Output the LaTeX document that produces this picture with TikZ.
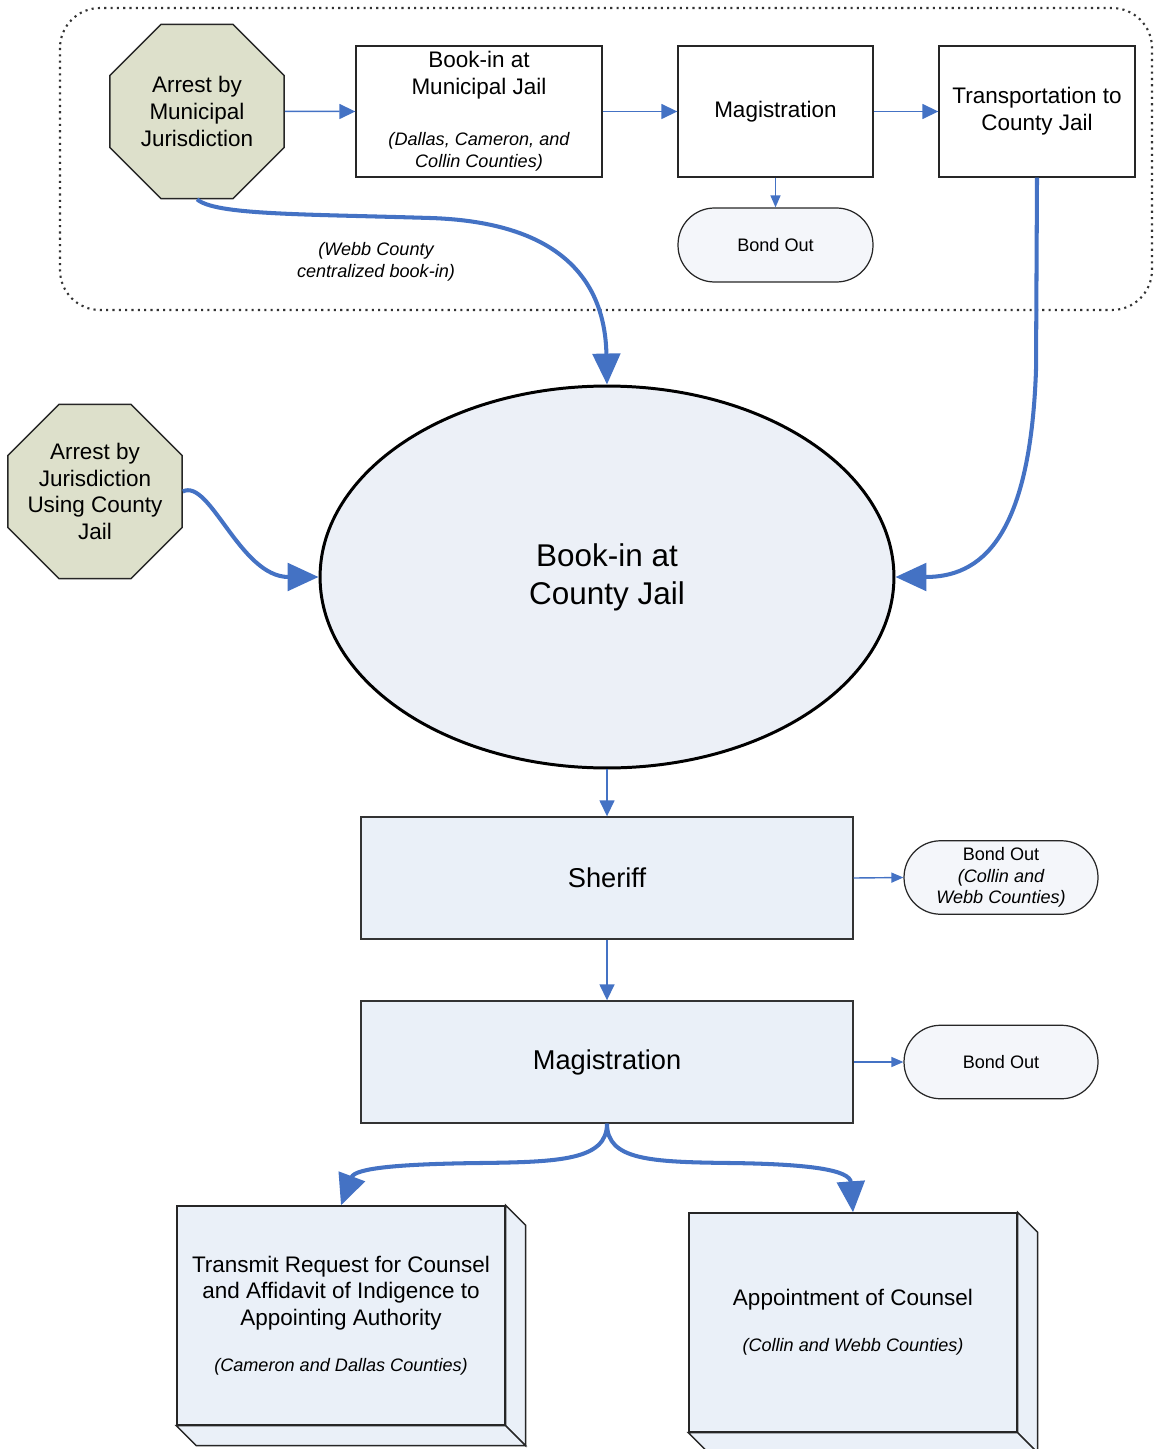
\documentclass[tikz,border=0pt]{standalone}
\usepackage{fontspec}
\setmainfont{Liberation Sans}
\usepackage{tikz}
\usetikzlibrary{arrows.meta,shapes.geometric,calc}

\definecolor{flowblue}{RGB}{68,114,196}
\definecolor{octfill}{RGB}{221,224,203}
\definecolor{boxfill}{RGB}{234,240,248}
\definecolor{pillfill}{RGB}{244,246,250}
\definecolor{ellfill}{RGB}{236,240,247}
\newcommand{\cnote}{\fontsize{10.3}{12.4}\selectfont\itshape}

\tikzset{
  octa/.style={regular polygon, regular polygon sides=8, minimum size=3.77cm, inner sep=-8pt,
    draw=black!85, line width=0.8pt, fill=octfill, align=center, font=\fontsize{12.8}{15.3}\selectfont},
  plainbox/.style={rectangle, draw=black!85, line width=0.8pt, fill=white, minimum height=2.62cm,
    inner sep=0pt, align=center, font=\fontsize{12.8}{15.3}\selectfont},
  bigbox/.style={rectangle, draw=black!80, line width=0.8pt, fill=boxfill, minimum width=9.84cm,
    minimum height=2.44cm, font=\fontsize{15.5}{18}\selectfont},
  pill/.style={rectangle, rounded corners=0.73cm, draw=black!85, line width=0.7pt, fill=pillfill,
    minimum width=3.88cm, minimum height=1.47cm, inner sep=0pt, align=center,
    font=\fontsize{10.3}{12.2}\selectfont},
  cube/.style={rectangle, draw=black!85, line width=0.8pt, fill=boxfill, minimum width=6.56cm,
    minimum height=4.38cm, align=center, font=\fontsize{12.8}{15.3}\selectfont},
  tag/.style={align=center, font=\cnote},
  thinflow/.style={flowblue, line width=0.85pt, -{Triangle[length=0.32cm,width=0.3cm]}},
  smallflow/.style={flowblue, line width=0.8pt, -{Triangle[length=0.24cm,width=0.2cm]}},
  thickflow/.style={flowblue, line width=2.3pt, -{Triangle[length=0.62cm,width=0.55cm]}}
}

\begin{document}
\begin{tikzpicture}[x=0.02cm,y=-0.02cm]
			\useasboundingbox (0,0) rectangle (1154,1449);
			
			% municipal area
			\draw[black!80, line width=1.2pt, dash pattern=on 1.2pt off 2.4pt, rounded corners=0.8cm] (60,8) rectangle (1152,310);
			
			\node[octa] (arrmun) at (197,111.5) {Arrest by\\Municipal\\Jurisdiction};
			\node[plainbox, minimum width=4.92cm] (bookmun) at (479,111.5) {Book-in at\\Municipal Jail\\[13.6pt]\cnote (Dallas, Cameron, and\\[-2.8pt]\cnote Collin Counties)};
			\node[plainbox, minimum width=3.9cm] (magtop) at (775.5,111.5) {Magistration};
			\node[plainbox, minimum width=3.92cm] (trans) at (1037,111.5) {Transportation to\\County Jail};
			\node[pill, minimum width=3.9cm, minimum height=1.48cm] (bondtop) at (775.5,245) {Bond Out};
			\node[tag] (webb) at (376,262) {(Webb County\\centralized book-in)};
			
			\draw[thinflow] (arrmun.east) -- (bookmun.west);
			\draw[thinflow] (bookmun.east) -- (magtop.west);
			\draw[thinflow] (magtop.east) -- (trans.west);
			\draw[smallflow] (magtop.south) -- (bondtop.north);
			
			% county jail
			\node[ellipse, draw=black, line width=1.7pt, fill=ellfill, minimum width=11.48cm, minimum height=7.64cm, inner sep=0pt, align=center, font=\fontsize{17.9}{21.5}\selectfont] (bookcty) at (607,577) {Book-in at\\County Jail};
			\node[octa] (arrcty) at (95,491.5) {Arrest by\\Jurisdiction\\Using County\\Jail};
			
			\draw[thickflow] (arrmun.south) .. controls (215,215) and (300,214) .. (430,218) .. controls (560,222) and (605,280) .. (bookcty.north);
			\draw[thickflow] (trans.south) -- (1036,370) .. controls (1030,540) and (980,577) .. (bookcty.east);
			\draw[thickflow] (arrcty.east) .. controls (210,478) and (240,577) .. (bookcty.west);
			
			\node[bigbox] (sheriff) at (607,878) {Sheriff};
			\node[bigbox] (magcty) at (607,1062) {Magistration};
			\node[pill] (bondsh) at (1001,877.5) {Bond Out\\\cnote (Collin and\\\cnote Webb Counties)};
			\node[pill] (bondmag) at (1001,1062) {Bond Out};
			
			\draw[thinflow] (bookcty.south) -- (sheriff.north);
			\draw[thinflow] (sheriff.south) -- (magcty.north);
			\draw[smallflow] (sheriff.east) -- (bondsh.west);
			\draw[smallflow] (magcty.east) -- (bondmag.west);
			
			% counsel
			\node[cube] (transmit) at (341,1315.5) {Transmit Request for Counsel\\and Affidavit of Indigence to\\Appointing Authority\\[10.7pt]\cnote (Cameron and Dallas Counties)};
			\node[cube] (appoint) at (853,1322.5) {Appointment of Counsel\\[10.7pt]\cnote (Collin and Webb Counties)};
			\foreach \c in {transmit,appoint}{
				\draw[black!85, line width=0.8pt, fill=boxfill] (\c.north east) -- ++(20,20) -- ($(\c.south east)+(20,20)$) -- (\c.south east) -- cycle;
				\draw[black!85, line width=0.8pt, fill=boxfill] (\c.south west) -- ++(20,20) -- ($(\c.south east)+(20,20)$) -- (\c.south east) -- cycle;
			}
			
			\draw[thickflow] (magcty.south) .. controls (607,1160) and (560,1162) .. (480,1163) .. controls (400,1164) and (355,1168) .. (transmit.north);
			\draw[thickflow] (magcty.south) .. controls (607,1160) and (650,1162) .. (730,1163) .. controls (810,1164) and (850,1170) .. (appoint.north);
\end{tikzpicture}
\end{document}
